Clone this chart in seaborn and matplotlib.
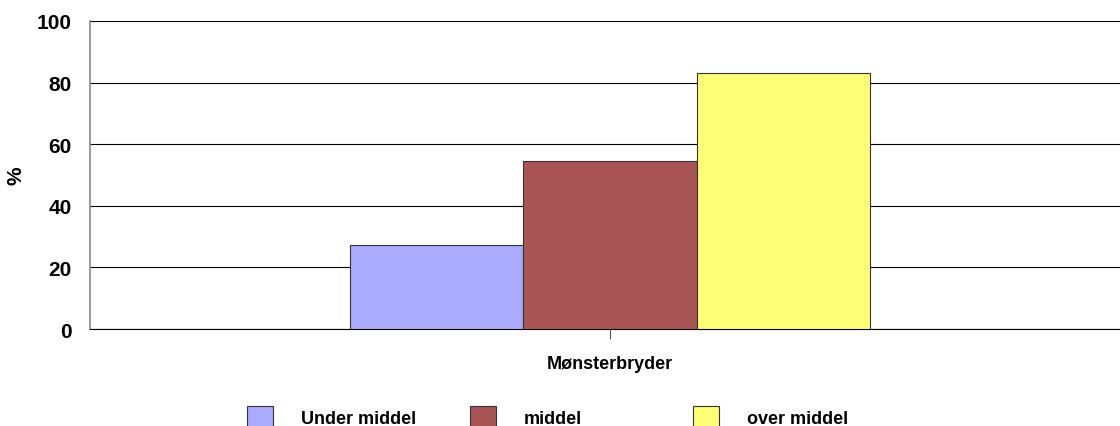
import matplotlib
matplotlib.use("Agg")
import matplotlib.pyplot as plt
import seaborn as sns
import pandas as pd

# Data
categories = ["Mønsterbryder"]
groups = ["Under middel", "middel", "over middel"]
values = [27.3, 54.4, 83.0]
colors = ["#AAAAFF", "#AA5555", "#FFFF77"]

df = pd.DataFrame({"kategori": categories * len(groups), "gruppe": groups, "pct": values})

sns.set_style("white")
plt.rcParams['font.family'] = ['Liberation Sans', 'DejaVu Sans']
plt.rcParams['font.weight'] = 'bold'
plt.rcParams['text.color'] = 'black'
plt.rcParams['axes.labelcolor'] = 'black'
plt.rcParams['xtick.color'] = 'black'
plt.rcParams['ytick.color'] = 'black'

fig = plt.figure(figsize=(11.2, 4.27), dpi=100)
ax = fig.add_axes([0.0804, 0.227, 0.9286, 0.7215])

sns.barplot(data=df, x="kategori", y="pct", hue="gruppe", hue_order=groups,
            palette=colors, width=0.5, edgecolor="#333333", linewidth=0.8,
            saturation=1, ax=ax, zorder=3)

ax.set_xlim(-0.5, 0.5)
ax.set_ylim(0, 100)
ax.set_yticks([0, 20, 40, 60, 80, 100])
ax.yaxis.grid(True, color="black", linewidth=0.8, zorder=0)
ax.set_axisbelow(True)

for s in ["top", "right"]:
    ax.spines[s].set_visible(False)
ax.spines["left"].set_color("#888888")
ax.spines["left"].set_linewidth(1.2)
ax.spines["bottom"].set_color("black")
ax.spines["bottom"].set_linewidth(0.8)

ax.tick_params(axis="y", length=9.5, width=0.8, color="black", labelsize=15, pad=3.5)
ax.tick_params(axis="x", length=7, width=0.8, color="#555555", labelsize=13, pad=12,
               bottom=True, direction="out")
ax.set_xlabel("")
ax.set_ylabel("%", fontsize=15, fontweight="bold", labelpad=8)

# Legend: three evenly spaced entries at the bottom
handles, labels = ax.get_legend_handles_labels()
ax.get_legend().remove()
xs = [247, 470, 693]
for h, l, x in zip(handles, labels, xs):
    fig.legend([h], [l], loc="lower left", bbox_to_anchor=(x / 1120 - 0.0065, -0.024),
               frameon=False, fontsize=13, handlelength=1.45, handleheight=1.6,
               handletextpad=1.55, borderaxespad=0)

fig.savefig("out.png", dpi=100)
